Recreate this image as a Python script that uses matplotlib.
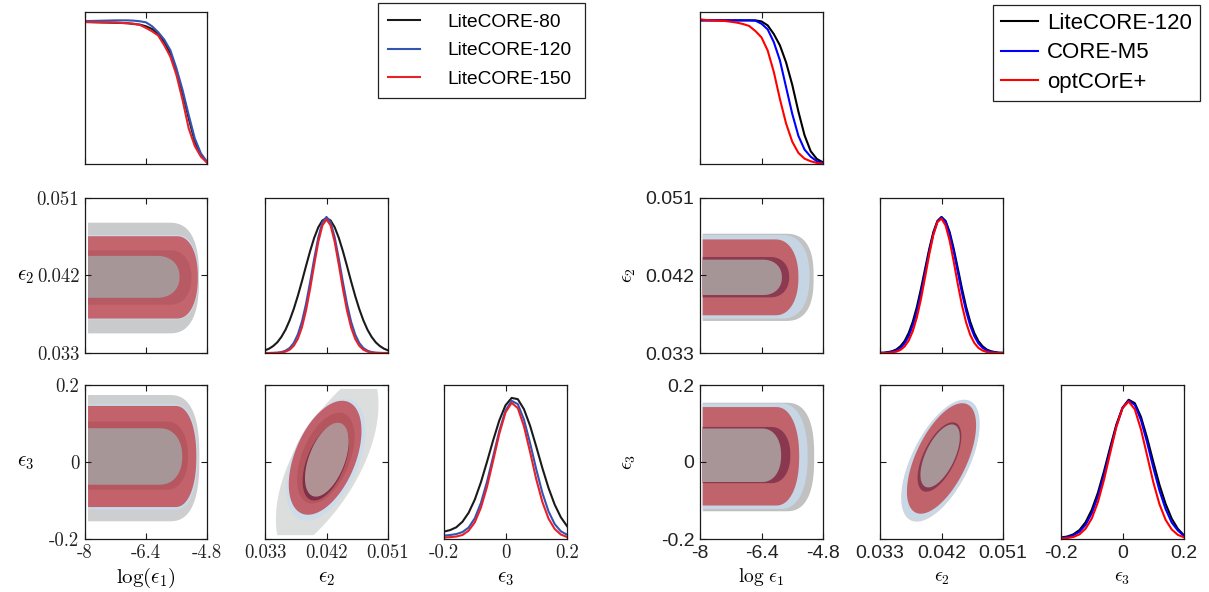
import numpy as np
import matplotlib
matplotlib.use("Agg")
import matplotlib.pyplot as plt

plt.rcParams['mathtext.fontset'] = 'cm'
plt.rcParams['axes.unicode_minus'] = False

# ---------------- data ----------------
LEFT_NAMES = ["LiteCORE-80", "LiteCORE-120", "LiteCORE-150"]
RIGHT_NAMES = ["LiteCORE-120", "CORE-M5", "optCOrE+"]

LOGEPS1_TICKS = [-8, -6.4, -4.8]
EPS2_TICKS = [0.033, 0.042, 0.051]
EPS3_TICKS = [-0.2, 0, 0.2]
LOGEPS1_TICKLABELS = ["-8", "-6.4", "-4.8"]
EPS2_TICKLABELS = ["0.033", "0.042", "0.051"]
EPS3_TICKLABELS = ["-0.2", "0", "0.2"]

LOGEPS1_GRID = [-8.00, -7.84, -7.68, -7.52, -7.36, -7.20, -7.04, -6.88, -6.72, -6.56, -6.40,
                -6.24, -6.08, -5.92, -5.76, -5.60, -5.44, -5.28, -5.12, -4.96, -4.80]
EPS2_GRID = [0.0330, 0.0336, 0.0342, 0.0348, 0.0354, 0.0360, 0.0366, 0.0372, 0.0378, 0.0384,
             0.0390, 0.0396, 0.0402, 0.0408, 0.0414, 0.0420, 0.0426, 0.0432, 0.0438, 0.0444,
             0.0450, 0.0456, 0.0462, 0.0468, 0.0474, 0.0480, 0.0486, 0.0492, 0.0498, 0.0504, 0.0510]
EPS3_GRID = [-0.20, -0.18, -0.16, -0.14, -0.12, -0.10, -0.08, -0.06, -0.04, -0.02, 0.00,
             0.02, 0.04, 0.06, 0.08, 0.10, 0.12, 0.14, 0.16, 0.18, 0.20]

# left figure: 1D marginals (normalised heights)
L_LOGEPS1_80 = [0.934, 0.933, 0.932, 0.931, 0.930, 0.929, 0.928, 0.926, 0.921, 0.917, 0.906,
                0.888, 0.853, 0.803, 0.726, 0.612, 0.464, 0.300, 0.147, 0.059, 0.011]
L_LOGEPS1_120 = [0.941, 0.941, 0.942, 0.943, 0.944, 0.945, 0.945, 0.945, 0.943, 0.939, 0.932,
                 0.906, 0.867, 0.818, 0.748, 0.628, 0.486, 0.322, 0.168, 0.070, 0.015]
L_LOGEPS1_150 = [0.934, 0.934, 0.933, 0.932, 0.932, 0.931, 0.928, 0.926, 0.923, 0.915, 0.895,
                 0.873, 0.845, 0.781, 0.705, 0.584, 0.420, 0.234, 0.118, 0.048, 0.009]

L_EPS2_80 = [0.017, 0.028, 0.045, 0.069, 0.104, 0.150, 0.210, 0.283, 0.368, 0.462, 0.561, 0.657,
             0.743, 0.811, 0.855, 0.870, 0.855, 0.811, 0.743, 0.657, 0.561, 0.462, 0.368, 0.283,
             0.210, 0.150, 0.104, 0.069, 0.045, 0.028, 0.017]
L_EPS2_120 = [0.000, 0.000, 0.001, 0.002, 0.006, 0.015, 0.032, 0.064, 0.119, 0.202, 0.316, 0.457,
              0.608, 0.746, 0.843, 0.878, 0.843, 0.746, 0.608, 0.457, 0.316, 0.202, 0.119, 0.064,
              0.032, 0.015, 0.006, 0.002, 0.001, 0.000, 0.000]
L_EPS2_150 = [0.000, 0.000, 0.000, 0.001, 0.003, 0.009, 0.021, 0.046, 0.091, 0.165, 0.274, 0.414,
              0.570, 0.717, 0.823, 0.862, 0.823, 0.717, 0.570, 0.414, 0.274, 0.165, 0.091, 0.046,
              0.021, 0.009, 0.003, 0.001, 0.000, 0.000, 0.000]

L_EPS3_80 = [0.048, 0.058, 0.076, 0.112, 0.170, 0.255, 0.368, 0.502, 0.642, 0.771, 0.868,
             0.916, 0.908, 0.843, 0.735, 0.600, 0.460, 0.331, 0.223, 0.141, 0.084]
L_EPS3_120 = [0.022, 0.026, 0.032, 0.045, 0.074, 0.134, 0.234, 0.373, 0.537, 0.703, 0.834,
              0.897, 0.876, 0.775, 0.622, 0.453, 0.299, 0.179, 0.097, 0.050, 0.028]
L_EPS3_150 = [0.010, 0.012, 0.016, 0.026, 0.054, 0.108, 0.203, 0.340, 0.510, 0.685, 0.822,
              0.884, 0.850, 0.732, 0.564, 0.388, 0.240, 0.132, 0.065, 0.029, 0.013]

# right figure: 1D marginals
R_LOGEPS1_LC120 = [0.945, 0.945, 0.945, 0.945, 0.945, 0.945, 0.945, 0.945, 0.945, 0.945, 0.938,
                   0.912, 0.855, 0.780, 0.668, 0.521, 0.345, 0.189, 0.084, 0.033, 0.011]
R_LOGEPS1_M5 = [0.945, 0.945, 0.945, 0.945, 0.945, 0.945, 0.945, 0.945, 0.945, 0.943, 0.923,
                0.886, 0.802, 0.681, 0.505, 0.330, 0.185, 0.095, 0.048, 0.018, 0.007]
R_LOGEPS1_OPT = [0.952, 0.947, 0.945, 0.943, 0.941, 0.936, 0.930, 0.921, 0.908, 0.875, 0.833,
                 0.747, 0.606, 0.426, 0.266, 0.147, 0.073, 0.035, 0.018, 0.007, 0.002]

R_EPS2_LC120 = [0.001, 0.002, 0.006, 0.012, 0.023, 0.044, 0.077, 0.129, 0.202, 0.298, 0.415,
                0.543, 0.670, 0.779, 0.852, 0.878, 0.852, 0.779, 0.670, 0.543, 0.415, 0.298,
                0.202, 0.129, 0.077, 0.044, 0.023, 0.012, 0.006, 0.002, 0.001]
R_EPS2_M5 = [0.001, 0.001, 0.004, 0.008, 0.017, 0.034, 0.062, 0.109, 0.177, 0.271, 0.387,
             0.519, 0.652, 0.768, 0.847, 0.875, 0.847, 0.768, 0.652, 0.519, 0.387, 0.271,
             0.177, 0.109, 0.062, 0.034, 0.017, 0.008, 0.004, 0.001, 0.001]
R_EPS2_OPT = [0.000, 0.000, 0.001, 0.004, 0.009, 0.020, 0.042, 0.080, 0.141, 0.231, 0.349,
              0.490, 0.635, 0.761, 0.845, 0.867, 0.823, 0.723, 0.587, 0.441, 0.307, 0.197,
              0.117, 0.065, 0.033, 0.016, 0.007, 0.003, 0.001, 0.000, 0.000]

R_EPS3_LC120 = [0.010, 0.016, 0.030, 0.058, 0.109, 0.189, 0.300, 0.441, 0.596, 0.743, 0.853,
                0.904, 0.882, 0.793, 0.657, 0.502, 0.353, 0.229, 0.132, 0.066, 0.024]
R_EPS3_M5 = [0.008, 0.012, 0.024, 0.047, 0.092, 0.167, 0.276, 0.418, 0.578, 0.733, 0.849,
             0.899, 0.871, 0.773, 0.627, 0.465, 0.316, 0.196, 0.107, 0.055, 0.020]
R_EPS3_OPT = [0.004, 0.006, 0.013, 0.030, 0.067, 0.133, 0.239, 0.386, 0.559, 0.728, 0.851,
              0.893, 0.842, 0.712, 0.542, 0.370, 0.227, 0.125, 0.062, 0.027, 0.011]

# 2D contour regions (log eps1 vs eps): [x_left, x_right, y_low, y_high, cap_length]
L_E1E2_REGIONS = [[-7.92, -5.01, 0.03528, 0.04813, 0.80],
                  [-7.92, -5.02, 0.03690, 0.04672, 0.60],
                  [-7.92, -5.04, 0.03700, 0.04656, 0.55],
                  [-7.92, -5.21, 0.03862, 0.04491, 0.55],
                  [-7.92, -5.52, 0.03941, 0.04428, 0.60]]
L_E1E3_REGIONS = [[-7.92, -5.00, -0.154, 0.174, 0.80],
                  [-7.92, -5.05, -0.124, 0.150, 0.60],
                  [-7.92, -5.08, -0.117, 0.1456, 0.55],
                  [-7.92, -5.30, -0.072, 0.105, 0.55],
                  [-7.92, -5.45, -0.059, 0.0877, 0.60]]
R_E1E2_REGIONS = [[-7.93, -5.044, 0.03672, 0.04685, 0.75],
                  [-7.93, -5.15, 0.03700, 0.04670, 0.70],
                  [-7.93, -5.44, 0.03738, 0.04619, 0.60],
                  [-7.93, -5.68, 0.03946, 0.04415, 0.50],
                  [-7.93, -5.87, 0.03973, 0.04384, 0.50]]
R_E1E3_REGIONS = [[-7.93, -5.03, -0.128, 0.154, 0.75],
                  [-7.93, -5.20, -0.122, 0.152, 0.70],
                  [-7.93, -5.42, -0.113, 0.1427, 0.60],
                  [-7.93, -5.65, -0.055, 0.091, 0.50],
                  [-7.93, -5.89, -0.052, 0.087, 0.50]]
# 2D contour regions (eps2 vs eps3): [centre_x, centre_y, half_width, half_height, correlation]
L_E2E3_REGIONS = [[0.0421, 0.000, 0.0075, 0.215, 0.70],
                  [0.0419, 0.006, 0.0058, 0.158, 0.48],
                  [0.0418, 0.011, 0.00532, 0.148, 0.47],
                  [0.0419, 0.010, 0.0042, 0.118, 0.47],
                  [0.0419, 0.000, 0.0034, 0.100, 0.50],
                  [0.04205, 0.006, 0.0032, 0.096, 0.50]]
L_E2E3_YCUT = 0.19
R_E2E3_REGIONS = [[0.0418, 0.000, 0.0057, 0.155, 0.60],
                  [0.0419, 0.0058, 0.0057, 0.156, 0.60],
                  [0.0420, 0.0092, 0.00506, 0.1435, 0.60],
                  [0.0417, 0.013, 0.0032, 0.090, 0.60],
                  [0.0418, 0.0158, 0.00288, 0.0818, 0.60]]
R_E2E3_YCUT = 0.30

# ---------------- styles ----------------
W, H = 1209, 592
L_LINE_COLORS = ['#1a1a1a', '#3454b4', '#e8202a']
R_LINE_COLORS = ['#000000', '#0000ff', '#ff0000']
L_E1E2_COLORS = ['#c9cacc', '#c9d9ea', '#c4646c', '#b85a63', '#a79698']
L_E1E3_COLORS = ['#cdcecf', '#c9d8e8', '#c3626b', '#b65760', '#a79698']
R_E1E2_COLORS = ['#c2c2c3', '#c6d5e4', '#c1636b', '#8c3a52', '#a69597']
R_E1E3_COLORS = ['#c1c1c2', '#c7d6e5', '#c1636b', '#8a3850', '#a79597']
L_E2E3_COLORS = ['#dcdddd', '#cddcea', '#c0616b', '#b5565f', '#7f2f48', '#b09294']
R_E2E3_COLORS = ['#d3d5d8', '#c9d8e7', '#c0636b', '#8a3850', '#a89597']
U_POWERS = [2.6, 2.3, 2.2, 2.2, 2.2]
L_E2E3_POWERS = [2.25, 2, 2, 2, 2, 2]
R_E2E3_POWERS = [2, 2, 2, 2, 2]

LEFT_COLS = [(85, 207), (265, 388), (444, 567)]
RIGHT_COLS = [(700, 823), (880, 1003), (1061, 1184)]
ROWS = [(12, 164), (198, 353), (385, 539)]


def spow(v, e):
    return np.sign(v) * np.abs(v) ** e


def u_region(row, p, n=120):
    xl, xr, ylo, yhi, cap = row
    ym, h, xc = (ylo + yhi) / 2, (yhi - ylo) / 2, xr - cap
    t = np.linspace(np.pi / 2, -np.pi / 2, n)
    xs = xc + cap * spow(np.cos(t), 2 / p)
    ys = ym + h * spow(np.sin(t), 2 / p)
    xs = np.concatenate([[xl], xs, [xl]])
    ys = np.concatenate([[yhi], ys, [ylo]])
    return xs, ys


def corr_region(row, p, ycut, n=240):
    cx, cy, sx, sy, rho = row
    t = np.linspace(0, 2 * np.pi, n)
    c, s = spow(np.cos(t), 2 / p), spow(np.sin(t), 2 / p)
    xs = cx + sx * c
    ys = cy + sy * (rho * c + np.sqrt(1 - rho ** 2) * s)
    return xs, np.clip(ys, -ycut, ycut)


fig = plt.figure(figsize=(W / 100, H / 100), dpi=100)


def add_ax(col, row):
    x0, x1 = col
    y0, y1 = row
    return fig.add_axes([x0 / W, 1 - y1 / H, (x1 - x0) / W, (y1 - y0) / H])


def style(ax, tick_size, marginal=False):
    for sp in ax.spines.values():
        sp.set_linewidth(0.9)
        sp.set_color('#1a1a1a')
    ax.tick_params(direction='in', length=4, width=0.8, top=True, right=not marginal,
                   left=not marginal, labelsize=tick_size, pad=4, colors='#1a1a1a')
    ax.tick_params(axis='both', labelcolor='#222222')


def draw_panel(cols, fonts, names, line_colors, marg, regions, reg_colors, e23, e23_colors,
               e23_powers, e23_cut, xlabels, ylabels, ylab_rot, ylab_x):
    tick_font, tick_size, lab_size = fonts
    grids = [LOGEPS1_GRID, EPS2_GRID, EPS3_GRID]
    ticks = [LOGEPS1_TICKS, EPS2_TICKS, EPS3_TICKS]
    tlabels = [LOGEPS1_TICKLABELS, EPS2_TICKLABELS, EPS3_TICKLABELS]
    lims = [(-8, -4.8), (0.033, 0.051), (-0.2, 0.2)]
    handles = []
    for k in range(3):
        ax = add_ax(cols[k], ROWS[k])
        for series, name, colr in zip(marg[k], names, line_colors):
            ln, = ax.plot(grids[k], series, color=colr, lw=1.5, label=name)
            if k == 0:
                handles.append(ln)
        ax.set_xlim(*lims[k])
        ax.set_ylim(0, 1)
        ax.set_yticks([])
        ax.set_xticks(ticks[k])
        style(ax, tick_size, marginal=True)
        if k == 2:
            ax.set_xticklabels(tlabels[k], fontfamily=tick_font, fontsize=tick_size)
            ax.set_xlabel(xlabels[k], fontsize=lab_size, va='center')
            ax.xaxis.set_label_coords(0.5, -0.25)
        else:
            ax.set_xticklabels([])
    # 2D panels
    pairs = [(1, 0, 0), (2, 0, 1), (2, 1, 2)]
    for (r, c, idx) in pairs:
        ax = add_ax(cols[c], ROWS[r])
        if idx == 2:
            for row, colr, p in zip(e23, e23_colors, e23_powers):
                xs, ys = corr_region(row, p, e23_cut)
                ax.fill(xs, ys, color=colr, lw=0)
        else:
            for row, colr, p in zip(regions[idx], reg_colors[idx], U_POWERS):
                xs, ys = u_region(row, p)
                ax.fill(xs, ys, color=colr, lw=0)
        ax.set_xlim(*lims[c])
        ax.set_ylim(*lims[r])
        ax.set_xticks(ticks[c])
        ax.set_yticks(ticks[r])
        style(ax, tick_size)
        if r == 2:
            ax.set_xticklabels(tlabels[c], fontfamily=tick_font, fontsize=tick_size)
            ax.set_xlabel(xlabels[c], fontsize=lab_size, va='center')
            ax.xaxis.set_label_coords(0.5, -0.25)
        else:
            ax.set_xticklabels([])
        if c == 0:
            ax.set_yticklabels(tlabels[r], fontfamily=tick_font, fontsize=tick_size)
            ax.set_ylabel(ylabels[r], fontsize=lab_size, rotation=ylab_rot,
                          va='center', ha='center')
            ax.yaxis.set_label_coords(ylab_x, 0.5)
        else:
            ax.set_yticklabels([])
    return handles


L_MARG = [[L_LOGEPS1_80, L_LOGEPS1_120, L_LOGEPS1_150],
          [L_EPS2_80, L_EPS2_120, L_EPS2_150],
          [L_EPS3_80, L_EPS3_120, L_EPS3_150]]
R_MARG = [[R_LOGEPS1_LC120, R_LOGEPS1_M5, R_LOGEPS1_OPT],
          [R_EPS2_LC120, R_EPS2_M5, R_EPS2_OPT],
          [R_EPS3_LC120, R_EPS3_M5, R_EPS3_OPT]]

hl = draw_panel(LEFT_COLS, ('cmr10', 13.5, 15), LEFT_NAMES, L_LINE_COLORS, L_MARG,
                [L_E1E2_REGIONS, L_E1E3_REGIONS], [L_E1E2_COLORS, L_E1E3_COLORS],
                L_E2E3_REGIONS, L_E2E3_COLORS, L_E2E3_POWERS, L_E2E3_YCUT,
                [r'$\log(\epsilon_1)$', r'$\epsilon_2$', r'$\epsilon_3$'],
                [None, r'$\epsilon_2$', r'$\epsilon_3$'], 0, -0.49)
hr = draw_panel(RIGHT_COLS, ('Liberation Sans', 14, 14), RIGHT_NAMES, R_LINE_COLORS, R_MARG,
                [R_E1E2_REGIONS, R_E1E3_REGIONS], [R_E1E2_COLORS, R_E1E3_COLORS],
                R_E2E3_REGIONS, R_E2E3_COLORS, R_E2E3_POWERS, R_E2E3_YCUT,
                [r'$\log\,\epsilon_1$', r'$\epsilon_2$', r'$\epsilon_3$'],
                [None, r'$\epsilon_2$', r'$\epsilon_3$'], 90, -0.585)


def add_legend(handles, names, box, size, bpad, lspace, hlen, htpad):
    x0, y0, w, h = box
    leg = fig.legend(handles, names, loc='upper left',
                     bbox_to_anchor=(x0 / W, 1 - (y0 + h) / H, w / W, h / H), mode='expand',
                     prop={'family': 'Liberation Sans', 'size': size}, frameon=True,
                     fancybox=False, edgecolor='#222222', framealpha=1, borderpad=bpad,
                     labelspacing=lspace, handlelength=hlen, handletextpad=htpad,
                     borderaxespad=0)
    leg.get_frame().set_linewidth(0.9)
    return leg


add_legend(hl, LEFT_NAMES, (378, 3, 207, 97), 13.8, 0.53, 0.59, 1.67, 1.4)
add_legend(hr, RIGHT_NAMES, (993, 5, 207, 95), 16, 0.35, 0.39, 1.67, 0.4)

fig.savefig('out.png', dpi=100, facecolor='white')
